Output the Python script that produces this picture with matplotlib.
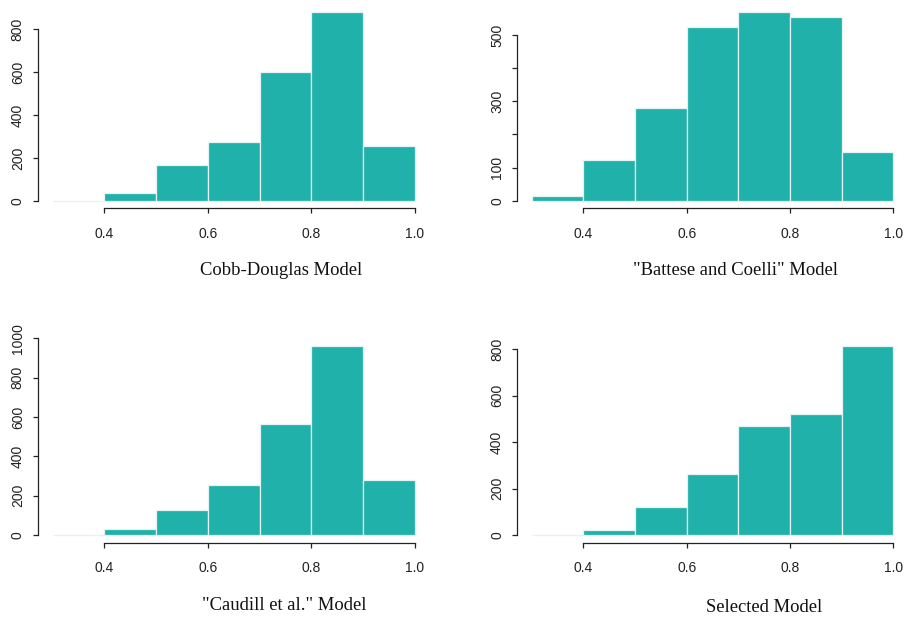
import matplotlib
matplotlib.use("Agg")
import matplotlib.pyplot as plt
import numpy as np

# Histogram bins (efficiency scores) and counts.
bin_edges = [0.3, 0.4, 0.5, 0.6, 0.7, 0.8, 0.9, 1.0]
cobb_douglas = [0, 37, 168, 274, 599, 882, 255]
battese_coelli = [13, 123, 279, 525, 570, 554, 148]
caudill = [0, 29, 127, 256, 563, 963, 278]
selected = [0, 22, 122, 264, 471, 521, 816]

titles = ["Cobb-Douglas Model", '"Battese and Coelli" Model',
          '"Caudill et al." Model', "Selected Model"]
x_ticks = [0.4, 0.6, 0.8, 1.0]
y_ticks = [[0, 200, 400, 600, 800],
           [0, 100, 200, 300, 400, 500],
           [0, 200, 400, 600, 800, 1000],
           [0, 200, 400, 600, 800]]
y_labels = [["0", "200", "400", "600", "800"],
            ["0", "100", "", "300", "", "500"],
            ["0", "200", "400", "600", "800", "1000"],
            ["0", "200", "400", "600", "800"]]

W, H = 905, 617
# axes boxes in pixels: left, top, right, bottom
boxes = [(38, 4.3, 429.5, 208.3), (517.3, 4.3, 907.8, 208.3),
         (38, 338, 429.5, 542.6), (517.3, 338, 907.8, 542.6)]
label_pos = [(281, 270), (735, 270), (284, 605), (764, 607)]

fig = plt.figure(figsize=(W / 100, H / 100), dpi=100)
fill = "#20B2AA"
edge = "#E4F2F1"

for i, counts in enumerate([cobb_douglas, battese_coelli, caudill, selected]):
    l, t, r, b = boxes[i]
    ax = fig.add_axes([l / W, (H - b) / H, (r - l) / W, (b - t) / H])
    left = np.array(bin_edges[:-1])
    width = np.diff(bin_edges)
    ax.bar(left, counts, width=width, align="edge", color=fill,
           edgecolor=edge, linewidth=0.9)
    ymax = max(counts)
    ax.set_xlim(0.3 - 0.028, 1.0 + 0.028)
    ax.set_ylim(-0.04 * ymax, 1.04 * ymax)
    for s in ["top", "right"]:
        ax.spines[s].set_visible(False)
    ax.spines["left"].set_bounds(y_ticks[i][0], y_ticks[i][-1])
    ax.spines["bottom"].set_bounds(x_ticks[0], x_ticks[-1])
    for s in ["left", "bottom"]:
        ax.spines[s].set_linewidth(0.9)
        ax.spines[s].set_color("#222222")
    ax.set_xticks(x_ticks)
    ax.set_xticklabels([f"{v:.1f}" for v in x_ticks], family="Liberation Sans")
    ax.set_yticks(y_ticks[i])
    ax.set_yticklabels(y_labels[i], rotation=90, va="center",
                       family="Liberation Sans")
    ax.tick_params(axis="both", length=3.5, width=0.9, color="#222222",
                   labelsize=10, labelcolor="#222222")
    ax.tick_params(axis="x", pad=10)
    ax.tick_params(axis="y", pad=6)
    ax.patch.set_alpha(0)
    fx, fy = label_pos[i]
    fig.text(fx / W, 1 - fy / H, titles[i], ha="center", va="center",
             fontsize=13.4, family="Liberation Serif", color="#111111")

fig.savefig("out.png", dpi=100)
